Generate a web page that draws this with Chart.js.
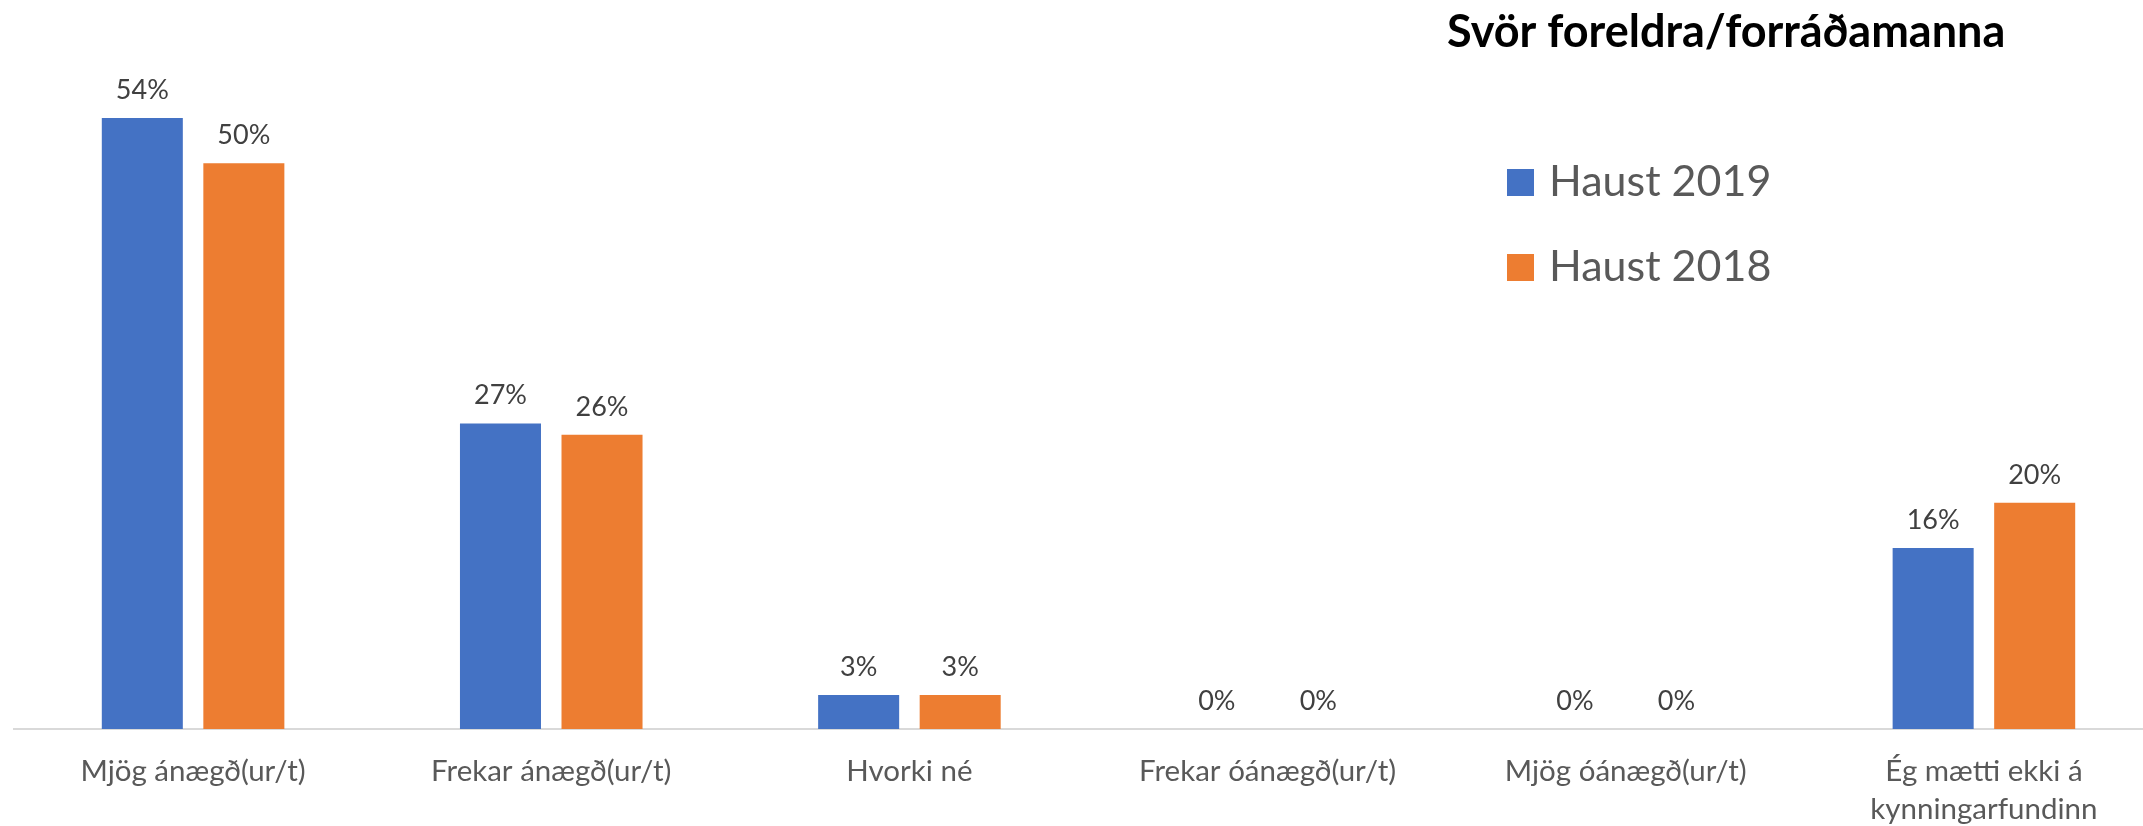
<!DOCTYPE html>
<html>
<head>
<meta charset="utf-8">
<script src="https://cdn.jsdelivr.net/npm/chart.js@4.4.1/dist/chart.umd.min.js"></script>
<style>
  html, body { margin: 0; padding: 0; background: #ffffff; overflow: hidden; }
  #wrap { position: relative; width: 2170px; height: 826px; }
</style>
</head>
<body>
<div id="wrap"><canvas id="c"></canvas></div>
<script>
const chartTitle = "Svör foreldra/forráðamanna";
const categories = [
  "Mjög ánægð(ur/t)",
  "Frekar ánægð(ur/t)",
  "Hvorki né",
  "Frekar óánægð(ur/t)",
  "Mjög óánægð(ur/t)",
  ["Ég mætti ekki á", "kynningarfundinn"]
];
const seriesNames = ["Haust 2019", "Haust 2018"];
const haust2019 = [54, 27, 3, 0, 0, 16];
const haust2018 = [50, 26, 3, 0, 0, 20];
const seriesColors = ["#4472C4", "#ED7D31"];

const FONT = "Lato, 'Noto Sans', 'DejaVu Sans', sans-serif";

const valueLabels = {
  id: 'valueLabels',
  afterDatasetsDraw(chart) {
    const ctx = chart.ctx;
    ctx.save();
    ctx.font = "27px " + FONT;
    ctx.fillStyle = "#404040";
    ctx.textAlign = "center";
    ctx.textBaseline = "alphabetic";
    chart.data.datasets.forEach((ds, di) => {
      const meta = chart.getDatasetMeta(di);
      meta.data.forEach((el, i) => {
        ctx.fillText(ds.data[i] + "%", el.x, el.y - 19);
      });
    });
    ctx.restore();
  }
};

const titleAndLegend = {
  id: 'titleAndLegend',
  afterDraw(chart) {
    const ctx = chart.ctx;
    ctx.save();
    ctx.textBaseline = "alphabetic";
    ctx.textAlign = "left";
    ctx.fillStyle = "#000000";
    ctx.font = "bold 45px " + FONT;
    ctx.fillText(chartTitle, 1447, 47);
    ctx.font = "43px " + FONT;
    chart.data.datasets.forEach((ds, i) => {
      const top = 169 + i * 85;
      ctx.fillStyle = ds.backgroundColor;
      ctx.fillRect(1507, top, 27, 27);
      ctx.fillStyle = "#595959";
      ctx.fillText(ds.label, 1549, top + 27);
    });
    ctx.restore();
  }
};

new Chart(document.getElementById('c'), {
  type: 'bar',
  data: {
    labels: categories,
    datasets: [
      { label: seriesNames[0], data: haust2019, backgroundColor: seriesColors[0] },
      { label: seriesNames[1], data: haust2018, backgroundColor: seriesColors[1] }
    ]
  },
  options: {
    responsive: true,
    maintainAspectRatio: false,
    animation: false,
    layout: { padding: { left: 14, right: 7, top: 50, bottom: 0 } },
    datasets: { bar: { categoryPercentage: 0.567, barPercentage: 0.798 } },
    plugins: {
      legend: { display: false },
      title: { display: false },
      tooltip: { enabled: false }
    },
    scales: {
      x: {
        grid: { display: false, drawTicks: false },
        border: { display: true, color: "#D9D9D9", width: 2 },
        ticks: {
          color: "#595959",
          font: { family: FONT, size: 29.5, lineHeight: 1.3 },
          padding: 23,
          maxRotation: 0,
          autoSkip: false
        },
        afterFit(scale) { scale.height = 97; }
      },
      y: {
        display: false,
        min: 0,
        max: 60
      }
    }
  },
  plugins: [valueLabels, titleAndLegend]
});
</script>
</body>
</html>
